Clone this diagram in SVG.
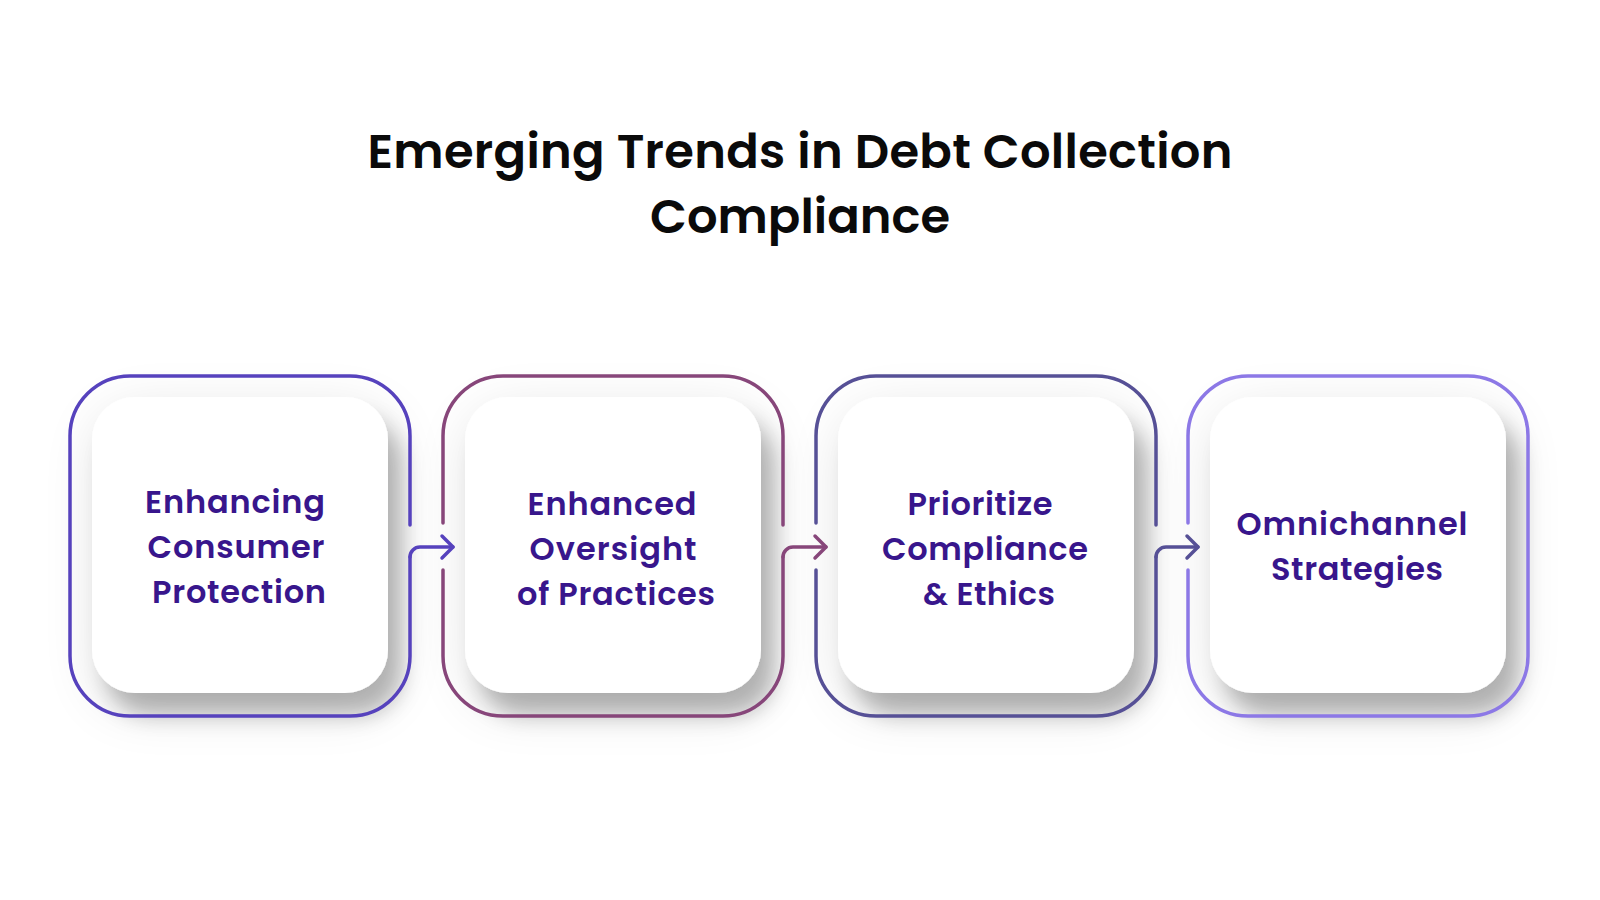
<svg xmlns="http://www.w3.org/2000/svg" width="1600" height="900" viewBox="0 0 1600 900">
  <defs>
    <style>
      .title { font-family: "Poppins", "Inter", "Liberation Sans", sans-serif; font-weight: 600; font-size: 48px; fill: #0a0a0a; text-anchor: middle; }
      .label { font-family: "Poppins", "Inter", "Liberation Sans", sans-serif; font-weight: 600; font-size: 32px; fill: #38168c; text-anchor: middle; }
      .card { fill: #ffffff; filter: url(#sh); }
      .outline { fill: none; stroke-width: 3.5; stroke-linecap: round; stroke-linejoin: round; }
      .conn { fill: none; stroke-width: 3.5; stroke-linecap: round; stroke-linejoin: round; }
    </style>
    <filter id="sh" x="-30%" y="-30%" width="170%" height="170%">
      <feGaussianBlur in="SourceAlpha" stdDeviation="28" result="b1"/>
      <feOffset in="b1" dx="4" dy="14" result="o1"/>
      <feComponentTransfer in="o1" result="s1"><feFuncA type="linear" slope="0.12"/></feComponentTransfer>
      <feGaussianBlur in="SourceAlpha" stdDeviation="11" result="b2"/>
      <feOffset in="b2" dx="14" dy="22" result="o2"/>
      <feComponentTransfer in="o2" result="s2"><feFuncA type="linear" slope="0.26"/></feComponentTransfer>
      <feMerge>
        <feMergeNode in="s1"/>
        <feMergeNode in="s2"/>
        <feMergeNode in="SourceGraphic"/>
      </feMerge>
    </filter>
    <marker id="ah1" markerUnits="userSpaceOnUse" viewBox="-14 -14 18 28" markerWidth="18" markerHeight="28" refX="0" refY="0" orient="auto">
      <path d="M-11,-11 L0,0 L-11,11" fill="none" stroke="#5642bd" stroke-width="3.5" stroke-linecap="round" stroke-linejoin="round"/>
    </marker>
    <marker id="ah2" markerUnits="userSpaceOnUse" viewBox="-14 -14 18 28" markerWidth="18" markerHeight="28" refX="0" refY="0" orient="auto">
      <path d="M-11,-11 L0,0 L-11,11" fill="none" stroke="#87467a" stroke-width="3.5" stroke-linecap="round" stroke-linejoin="round"/>
    </marker>
    <marker id="ah3" markerUnits="userSpaceOnUse" viewBox="-14 -14 18 28" markerWidth="18" markerHeight="28" refX="0" refY="0" orient="auto">
      <path d="M-11,-11 L0,0 L-11,11" fill="none" stroke="#565096" stroke-width="3.5" stroke-linecap="round" stroke-linejoin="round"/>
    </marker>
  </defs>

  <rect x="0" y="0" width="1600" height="900" fill="#ffffff"/>

  <g id="title">
    <text class="title" x="800" y="168" textLength="865" lengthAdjust="spacing">Emerging Trends in Debt Collection</text>
    <text class="title" x="800" y="233" textLength="300" lengthAdjust="spacing">Compliance</text>
  </g>

  <g id="node1">
    <rect class="card" x="92" y="397" width="296" height="296" rx="43"/>
    <path class="outline" stroke="#5642bd" d="M410,525 V436 A60,60 0 0 0 350,376 H130 A60,60 0 0 0 70,436 V656 A60,60 0 0 0 130,716 H350 A60,60 0 0 0 410,656 V557"/>
    <text class="label" x="235" y="513" textLength="180" lengthAdjust="spacing">Enhancing</text>
    <text class="label" x="236" y="558" textLength="177" lengthAdjust="spacing">Consumer</text>
    <text class="label" x="239" y="603" textLength="174" lengthAdjust="spacing">Protection</text>
  </g>

  <g id="node2">
    <rect class="card" x="465" y="397" width="296" height="296" rx="43"/>
    <path class="outline" stroke="#87467a" d="M783,525 V436 A60,60 0 0 0 723,376 H503 A60,60 0 0 0 443,436 V523 M443,570 V656 A60,60 0 0 0 503,716 H723 A60,60 0 0 0 783,656 V557"/>
    <text class="label" x="612" y="515" textLength="169" lengthAdjust="spacing">Enhanced</text>
    <text class="label" x="613" y="560" textLength="167" lengthAdjust="spacing">Oversight</text>
    <text class="label" x="616" y="605" textLength="198" lengthAdjust="spacing">of Practices</text>
  </g>

  <g id="node3">
    <rect class="card" x="838" y="397" width="296" height="296" rx="43"/>
    <path class="outline" stroke="#565096" d="M1156,525 V436 A60,60 0 0 0 1096,376 H876 A60,60 0 0 0 816,436 V523 M816,570 V656 A60,60 0 0 0 876,716 H1096 A60,60 0 0 0 1156,656 V557"/>
    <text class="label" x="980" y="515" textLength="145" lengthAdjust="spacing">Prioritize</text>
    <text class="label" x="985" y="560" textLength="206" lengthAdjust="spacing">Compliance</text>
    <text class="label" x="989" y="605" textLength="132" lengthAdjust="spacing">&amp; Ethics</text>
  </g>

  <g id="node4">
    <rect class="card" x="1210" y="397" width="296" height="296" rx="43"/>
    <path class="outline" stroke="#8c78e6" d="M1188,523 V436 A60,60 0 0 1 1248,376 H1468 A60,60 0 0 1 1528,436 V656 A60,60 0 0 1 1468,716 H1248 A60,60 0 0 1 1188,656 V570"/>
    <text class="label" x="1352" y="535" textLength="231" lengthAdjust="spacing">Omnichannel</text>
    <text class="label" x="1357" y="580" textLength="172" lengthAdjust="spacing">Strategies</text>
  </g>

  <g id="connectors">
    <path class="conn" stroke="#5642bd" marker-end="url(#ah1)" d="M410,557 A10,10 0 0 1 420,547 H453"/>
    <path class="conn" stroke="#87467a" marker-end="url(#ah2)" d="M783,557 A10,10 0 0 1 793,547 H826"/>
    <path class="conn" stroke="#565096" marker-end="url(#ah3)" d="M1156,557 A10,10 0 0 1 1166,547 H1198"/>
  </g>
</svg>
